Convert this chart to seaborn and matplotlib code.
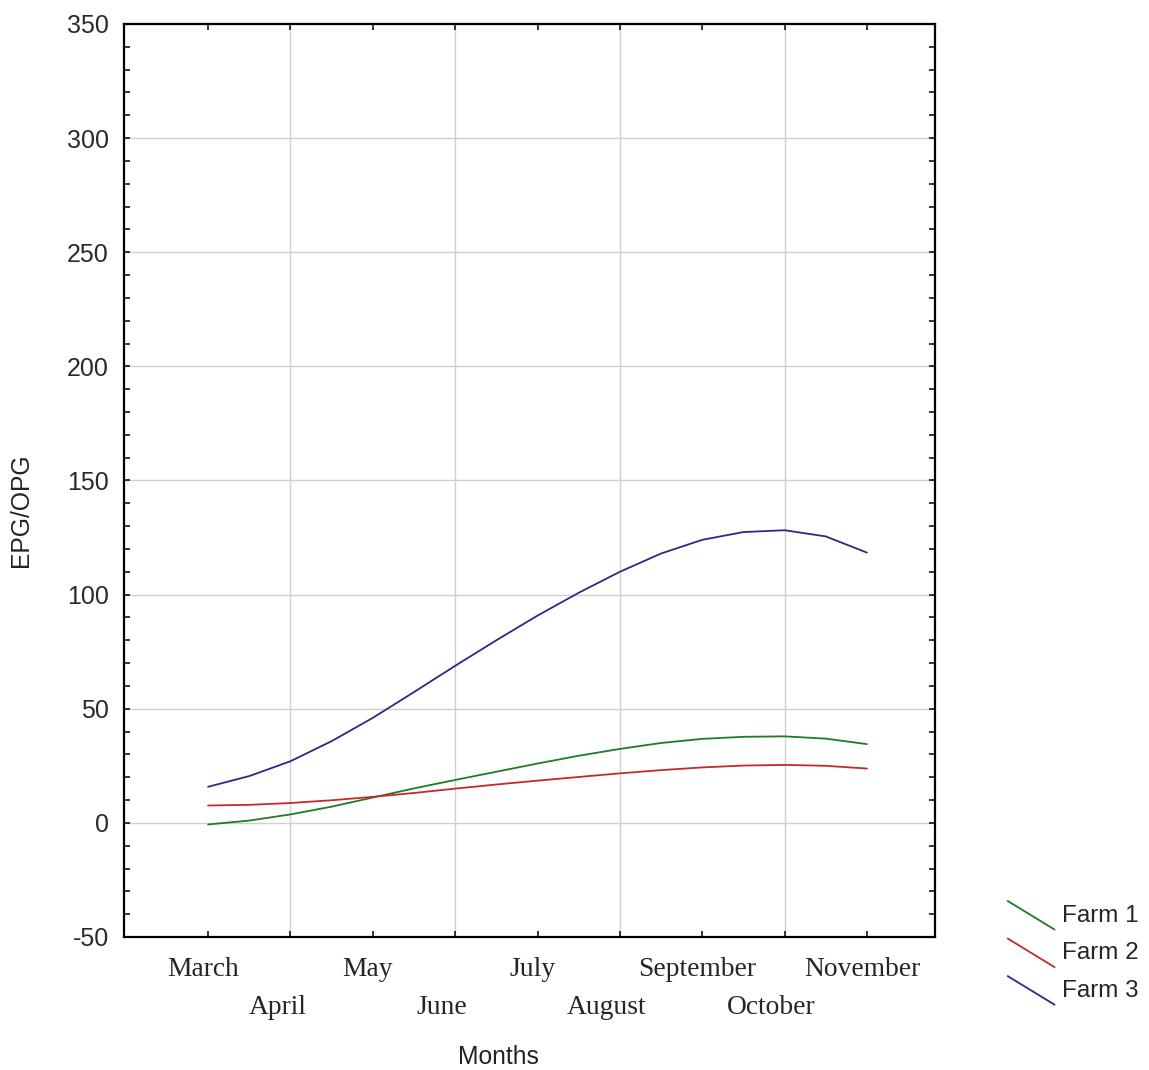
import numpy as np
import pandas as pd
from matplotlib import pyplot as plt
from matplotlib.lines import Line2D
from matplotlib.legend_handler import HandlerLine2D
from matplotlib.transforms import ScaledTranslation
import seaborn as sns

# data (EPG/OPG), read at every half month from March (0) to November (8)
months = ['March', 'April', 'May', 'June', 'July', 'August', 'September', 'October', 'November']
read_pos = [0, 0.5, 1, 1.5, 2, 2.5, 3, 3.5, 4, 4.5, 5, 5.5, 6, 6.5, 7, 7.5, 8]
farm1 = [-0.7, 1.0, 3.7, 7.1, 11.1, 15.1, 18.8, 22.4, 26.0, 29.4, 32.4, 35.0, 36.8, 37.7, 37.9, 36.9, 34.5]
farm2 = [7.6, 7.9, 8.7, 9.9, 11.4, 13.1, 15.0, 16.8, 18.5, 20.1, 21.7, 23.1, 24.3, 25.1, 25.4, 25.0, 23.8]
farm3 = [15.8, 20.5, 27.0, 35.8, 46.0, 57.3, 68.8, 80.0, 90.8, 100.8, 110.0, 118.0, 124.0, 127.4, 128.2, 125.5, 118.4]
farms = ['Farm 1', 'Farm 2', 'Farm 3']
colors = ['#1f7a2a', '#c42a2a', '#2a2a86']

sns.set_style('white')
plt.rcParams['font.family'] = ['Liberation Sans', 'DejaVu Sans']
plt.rcParams['axes.unicode_minus'] = False

df = pd.DataFrame({
    'month': read_pos * 3,
    'value': farm1 + farm2 + farm3,
    'farm': [f for f in farms for _ in read_pos],
})


class DiagonalHandler(HandlerLine2D):
    # statistica-style legend key: a short descending diagonal
    def create_artists(self, legend, orig_handle, xdescent, ydescent,
                       width, height, fontsize, trans):
        line = Line2D([-xdescent, width - xdescent],
                      [height - ydescent, -ydescent - 0.15 * height],
                      color=orig_handle.get_color(), lw=orig_handle.get_linewidth(),
                      transform=trans)
        return [line]


fig = plt.figure(figsize=(11.49, 10.70), dpi=100)
ax = fig.add_axes([0.108, 0.1243, 0.706, 0.8533])

sns.lineplot(data=df, x='month', y='value', hue='farm', palette=colors,
             linewidth=1.3, ax=ax, legend=False)

ax.set_xlim(-1.02, 8.83)
ax.set_ylim(-50, 350)

# months on alternating rows: even on majors, odd on minors
month_idx = list(range(len(months)))
ax.set_xticks(month_idx[0::2], labels=months[0::2])
ax.set_xticks(month_idx[1::2], labels=months[1::2], minor=True)

ax.set_yticks(np.arange(-50, 351, 50))
ax.set_yticks(np.arange(-50, 351, 10), minor=True)
ax.tick_params(axis='y', which='major', labelsize=18, pad=11, labelcolor='#2a2a2a')
ax.tick_params(axis='x', which='major', pad=14.6)
ax.tick_params(axis='x', which='minor', pad=41.6)
ax.tick_params(which='both', direction='in', length=4, width=1.1, color='black',
               top=True, right=True, bottom=True, left=True)

ax.grid(False)
ax.grid(True, which='major', axis='y', color='#cfcfcf', linewidth=1)
ax.grid(True, which='minor', axis='x', color='#cfcfcf', linewidth=1)

for sp in ax.spines.values():
    sp.set_visible(True)
    sp.set_color('black')
    sp.set_linewidth(1.6)

ax.set_xlabel('Months', fontsize=17.7, color='#222222')
ax.set_ylabel('EPG/OPG', fontsize=17.7, color='#222222')
ax.xaxis.set_label_coords(0.462, -0.118)
ax.yaxis.set_label_coords(-0.112, 0.467)

handles = [Line2D([], [], color=c, lw=1.3) for c in colors]
fig.legend(handles, farms, loc='upper left', bbox_to_anchor=(0.877, 0.158),
           bbox_transform=fig.transFigure, frameon=False, fontsize=17.5,
           handlelength=1.93, handleheight=1.2, handletextpad=0.3,
           labelspacing=0.49, borderpad=0, borderaxespad=0,
           handler_map={Line2D: DiagonalHandler()})

# month labels sit a little left of their ticks in the original
fig.canvas.draw()
shift_top = ScaledTranslation(-5 / 100, 0, fig.dpi_scale_trans)
shift_low = ScaledTranslation(-13 / 100, 0, fig.dpi_scale_trans)
for lab in ax.get_xticklabels(minor=False):
    lab.set_fontfamily('Liberation Serif')
    lab.set_fontsize(19.8)
    lab.set_transform(lab.get_transform() + shift_top)
for lab in ax.get_xticklabels(minor=True):
    lab.set_fontfamily('Liberation Serif')
    lab.set_fontsize(19.8)
    lab.set_transform(lab.get_transform() + shift_low)

fig.savefig('out.png', dpi=100, facecolor='white')
